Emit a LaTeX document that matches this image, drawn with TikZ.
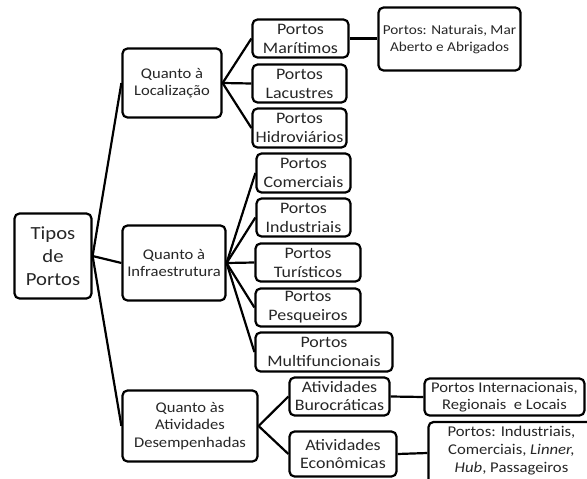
\documentclass[tikz,border=0pt]{standalone}
\usepackage{fontspec}
\setmainfont{Carlito}[FakeStretch=1.12]
\newcommand\fz[2]{\fontsize{#1}{#2}\selectfont}
\begin{document}
\begin{tikzpicture}[x=1pt,y=-1pt,
  box/.style={draw, line width=2.2pt, rounded corners=5pt, inner sep=0pt, align=center, text=black!85},
  conn/.style={line width=2.2pt}]
\useasboundingbox (0,0) rectangle (587,479);
\clip (0,0) rectangle (587,479);
% root
\node[box, minimum width=77pt, minimum height=85pt, font=\fz{18.5}{23}] (t) at (53,256) {Tipos\\de\\Portos};
% level 1
\node[box, minimum width=99pt, minimum height=69pt, font=\fz{14.8}{17.5}] (l1) at (172,83) {Quanto à\\Localização};
\node[box, minimum width=103pt, minimum height=75pt, font=\fz{14.8}{17.5}] (l2) at (174,263) {Quanto à\\Infraestrutura};
\node[box, minimum width=135pt, minimum height=71pt, font=\fz{14.8}{17.5}] (l3) at (190,426) {Quanto às\\Atividades\\Desempenhadas};
% localizacao children
\node[box, minimum width=96pt, minimum height=38pt, font=\fz{16}{19}] (m1) at (300.5,38.5) {Portos\\Marítimos};
\node[box, minimum width=94pt, minimum height=38pt, font=\fz{16}{19}] (m2) at (299.5,83.5) {Portos\\Lacustres};
\node[box, minimum width=94pt, minimum height=39pt, font=\fz{16}{19}] (m3) at (299.5,128) {Portos\\Hidroviários};
% infraestrutura children
\node[box, minimum width=94pt, minimum height=39pt, font=\fz{16}{19}] (i1) at (303.5,173) {Portos\\Comerciais};
\node[box, minimum width=94pt, minimum height=38pt, font=\fz{16}{19}] (i2) at (303.5,217.5) {Portos\\Industriais};
\node[box, minimum width=105pt, minimum height=38pt, font=\fz{16}{19}] (i3) at (308,262.5) {Portos\\Turísticos};
\node[box, minimum width=105pt, minimum height=38pt, font=\fz{16}{19}] (i4) at (308,307.5) {Portos\\Pesqueiros};
\node[box, minimum width=137pt, minimum height=39pt, font=\fz{16}{19}] (i5) at (324,352) {Portos\\Multifuncionais};
% atividades children
\node[box, minimum width=100pt, minimum height=38pt, font=\fz{16}{18}] (a1) at (339.5,396.5) {Atividades\\Burocráticas};
\node[box, minimum width=107pt, minimum height=45pt, font=\fz{16}{18}] (a2) at (343,454) {Atividades\\Econômicas};
% third level
\node[box, minimum width=142pt, minimum height=63pt, font=\fz{13.6}{17}] (n) at (449.5,39) {Portos: Naturais, Mar\\Aberto e Abrigados};
\node[box, minimum width=160pt, minimum height=37pt, font=\fz{14.8}{16.5}] (r1) at (504.5,397) {Portos Internacionais,\\Regionais\ \ e Locais};
\node[box, font=\fz{14.9}{18}] (r2) at (511.5,453) {\parbox[c][62pt][t]{166pt}{\centering\vspace*{4pt}Portos: Industriais,\\Comerciais, \textit{Linner,}\\\textit{Hub}, Passageiros}};
% connectors
\draw[conn] (t.east) -- (l1.west);
\draw[conn] (t.east) -- (l2.west);
\draw[conn] (t.east) -- (l3.west);
\foreach \c in {m1,m2,m3} \draw[conn] (l1.east) -- (\c.west);
\foreach \c in {i1,i2,i3,i4,i5} \draw[conn] (l2.east) -- (\c.west);
\foreach \c in {a1,a2} \draw[conn] (l3.east) -- (\c.west);
\draw[conn] (m1.east) -- (n.west |- m1.east);
\draw[conn] (a1.east) -- (r1.west);
\draw[conn] (a2.east) -- (r2.west);
\end{tikzpicture}
\end{document}
